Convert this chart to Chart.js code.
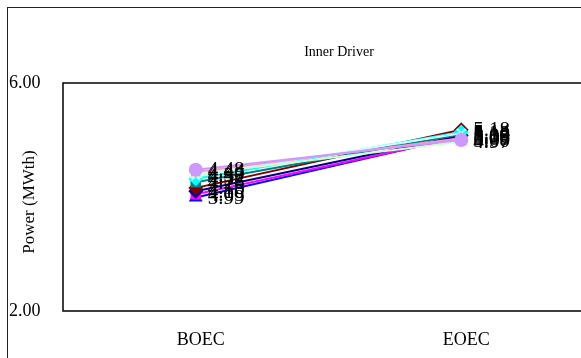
<!DOCTYPE html>
<html>
<head>
<meta charset="utf-8">
<script src="https://cdn.jsdelivr.net/npm/chart.js@4"></script>
<style>
  html, body { margin: 0; background: #fff; overflow: hidden; }
  canvas { display: block; }
</style>
</head>
<body>
<canvas id="chart" width="610" height="358"></canvas>
<script>
// Categorias e séries
var categories = ['BOEC', 'EOEC']
var yTicks = [2.00, 6.00]
var chartTitle = 'Inner Driver'
var yTitle = 'Power (MWth)'

var seriesNames = ['s1', 's2', 's3', 's4', 's5', 's6', 's7', 's8', 's9', 's10']
var boecValues = [4.48, 4.44, 4.40, 4.37, 4.32, 4.26, 4.16, 4.10, 4.05, 3.99]
var eoecValues = [5.00, 5.03, 4.97, 5.12, 5.14, 5.10, 5.18, 5.08, 5.05, 5.06]

var colors = ['#CC99FF', '#FF99CC', '#CCFFCC', '#CCFFFF', '#00FFFF', '#008080', '#800000', '#000080', '#FF00FF', '#0000FF']
var markers = ['circle', 'star', 'triangle', 'crossRot', 'rectRot', 'rect', 'rectRot', 'rectRot', 'rect', 'triangle']

var serif = "'Liberation Serif', 'Times New Roman', serif"

var datasets = []
seriesNames.forEach((name, i) => {
  datasets.push({
    label: name,
    data: [boecValues[i], eoecValues[i]],
    borderColor: colors[i],
    backgroundColor: colors[i],
    pointBackgroundColor: colors[i],
    pointBorderColor: colors[i],
    pointStyle: markers[i],
    pointRadius: 6,
    pointBorderWidth: 2,
    borderWidth: 2,
    tension: 0
  })
})

// Moldura, títulos e rótulos de dados
var decor = {
  id: 'decor',
  beforeDraw(chart) {
    var ctx = chart.ctx
    ctx.save()
    ctx.fillStyle = '#fff'
    ctx.fillRect(0, 0, chart.width, chart.height)
    ctx.strokeStyle = '#222'
    ctx.lineWidth = 1
    ctx.strokeRect(7.5, 7.5, 700, 500)
    ctx.restore()
  },
  afterDraw(chart) {
    var ctx = chart.ctx
    var a = chart.chartArea
    ctx.save()
    ctx.strokeStyle = '#000'
    ctx.lineWidth = 1.5
    ctx.strokeRect(a.left, a.top, a.right - a.left + 40, a.bottom - a.top)

    ctx.fillStyle = '#000'
    ctx.font = '14px ' + serif
    ctx.textAlign = 'center'
    ctx.textBaseline = 'middle'
    ctx.fillText(chartTitle, 339, 52)

    ctx.save()
    ctx.font = '17px ' + serif
    ctx.translate(30, 202)
    ctx.rotate(-Math.PI / 2)
    ctx.fillText(yTitle, 0, 0)
    ctx.restore()

    ctx.font = '21px ' + serif
    ctx.textAlign = 'left'
    chart.data.datasets.forEach((ds, i) => {
      chart.getDatasetMeta(i).data.forEach((pt, j) => {
        ctx.fillText(ds.data[j].toFixed(2), pt.x + 12, pt.y + 1)
      })
    })
    ctx.restore()
  }
}

var chart = new Chart(document.getElementById('chart'), {
  type: 'line',
  data: {
    labels: categories,
    datasets: datasets
  },
  options: {
    responsive: false,
    devicePixelRatio: 1,
    animation: false,
    layout: {
      padding: { top: 83, left: 9, right: 16, bottom: 0 }
    },
    plugins: {
      legend: { display: false },
      title: { display: false },
      tooltip: { enabled: false }
    },
    scales: {
      x: {
        type: 'category',
        offset: true,
        grid: { display: false, drawTicks: false },
        border: { display: false },
        ticks: {
          color: '#000',
          font: { family: serif, size: 18 },
          padding: 18,
          labelOffset: 5,
          maxRotation: 0
        },
        afterFit(scale) { scale.height = 47 }
      },
      y: {
        min: yTicks[0],
        max: yTicks[1],
        grid: { display: false, drawTicks: false },
        border: { display: false },
        afterBuildTicks(scale) {
          scale.ticks = yTicks.map((v) => ({ value: v }))
        },
        ticks: {
          color: '#000',
          font: { family: serif, size: 18 },
          crossAlign: 'far',
          callback: (v) => Number(v).toFixed(2)
        },
        afterFit(scale) { scale.width = 54 }
      }
    }
  },
  plugins: [decor]
})
</script>
</body>
</html>
